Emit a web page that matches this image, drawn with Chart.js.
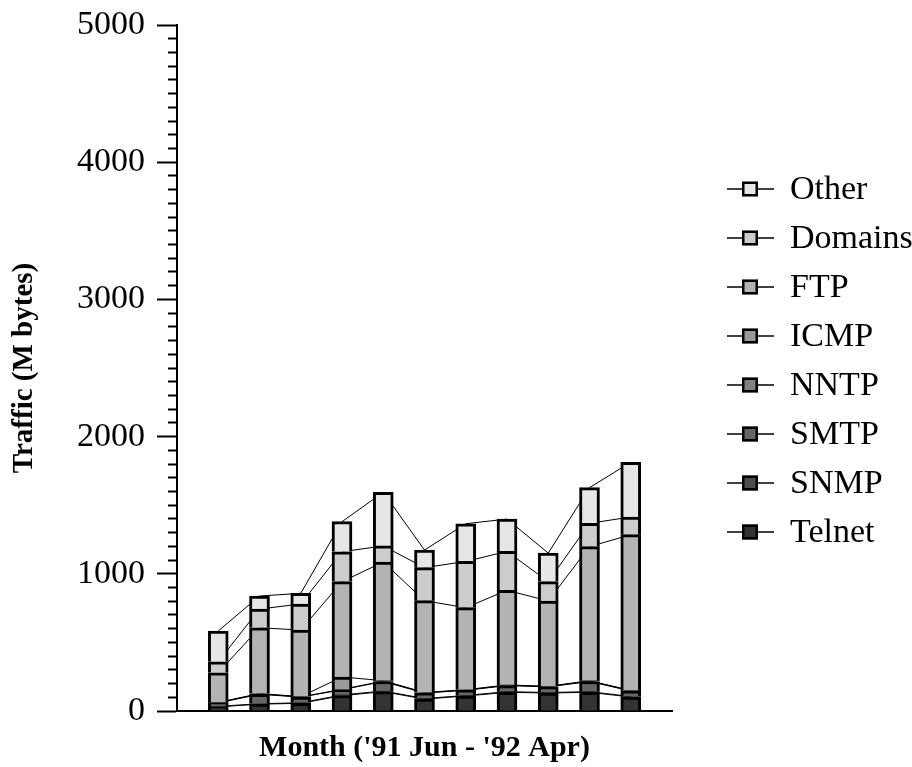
<!DOCTYPE html>
<html>
<head>
<meta charset="utf-8">
<script src="https://cdn.jsdelivr.net/npm/chart.js@4.4.1/dist/chart.umd.min.js"></script>
<style>
  html, body { margin: 0; padding: 0; background: #ffffff; }
  #wrap { width: 912px; height: 767px; }
</style>
</head>
<body>
<div id="wrap"><canvas id="traffic" width="912" height="767"></canvas></div>
<script>
// Monthly traffic by protocol, June 1991 - April 1992 (M bytes)
const months = ['Jun', 'Jul', 'Aug', 'Sep', 'Oct', 'Nov', 'Dec', 'Jan', 'Feb', 'Mar', 'Apr'];

const telnet  = [30, 50, 56, 112, 141, 87, 109, 136, 131, 136, 102];
const snmp    = [4, 3, 4, 5, 5, 4, 4, 5, 4, 5, 4];
const smtp    = [25, 69, 41, 38, 69, 40, 38, 44, 41, 74, 40];
const nntp    = [2, 3, 2, 3, 3, 2, 2, 3, 2, 3, 2];
const icmp    = [2, 2, 2, 90, 3, 2, 2, 2, 2, 3, 2];
const ftp     = [216, 480, 485, 695, 865, 669, 598, 690, 622, 977, 1135];
const domains = [80, 136, 190, 218, 117, 241, 337, 283, 141, 170, 129];
const other   = [224, 95, 78, 219, 391, 128, 275, 236, 208, 260, 399];

const seriesNames  = ['Telnet', 'SNMP', 'SMTP', 'NNTP', 'ICMP', 'FTP', 'Domains', 'Other'];
const seriesValues = [telnet, snmp, smtp, nntp, icmp, ftp, domains, other];
const seriesFills  = ['#333333', '#4d4d4d', '#666666', '#808080', '#999999', '#b3b3b3', '#cccccc', '#e6e6e6'];

const yTickLabels = [0, 1000, 2000, 3000, 4000, 5000];

const xTitle = "Month ('91 Jun - '92 Apr)";
const yTitle = 'Traffic (M bytes)';

// One empty slot on either side of the months so the bars sit inside the axis
const slotLabels = ['', ...months, ''];
const padSlots = vals => [null, ...vals, null];

const serif = '"Liberation Serif", "Times New Roman", serif';

const barSets = seriesValues.map((vals, i) => ({
  type: 'bar',
  label: seriesNames[i],
  data: padSlots(vals),
  backgroundColor: seriesFills[i],
  borderColor: '#000000',
  borderWidth: 3,
  barThickness: 20,
  stack: 'bars',
  order: 1
}));

// Thin lines joining the same stack level from month to month, drawn behind the bars
const levelSets = seriesValues.map((vals, i) => ({
  type: 'line',
  label: seriesNames[i] + ' level',
  data: padSlots(vals),
  borderColor: '#000000',
  borderWidth: 1,
  pointRadius: 0,
  fill: false,
  tension: 0,
  stack: 'levels',
  order: 2
}));

// Legend on the right: a short line through a framed swatch, topmost series first
const sideLegend = {
  id: 'sideLegend',
  afterDraw(chart) {
    const ctx = chart.ctx;
    const items = chart.data.datasets.filter(d => d.type === 'bar').slice().reverse();
    ctx.save();
    items.forEach((d, i) => {
      const cy = 189 + 49 * i;
      ctx.strokeStyle = '#000000';
      ctx.lineWidth = 1.5;
      ctx.beginPath();
      ctx.moveTo(727, cy);
      ctx.lineTo(774, cy);
      ctx.stroke();
      ctx.fillStyle = d.backgroundColor;
      ctx.fillRect(742, cy - 7.5, 16, 15);
      ctx.lineWidth = 2.5;
      ctx.strokeRect(743.25, cy - 6.25, 13.5, 12.5);
      ctx.fillStyle = '#000000';
      ctx.font = '34px ' + serif;
      ctx.textAlign = 'left';
      ctx.textBaseline = 'middle';
      ctx.fillText(d.label, 790, cy + 1);
    });
    ctx.restore();
  }
};

new Chart(document.getElementById('traffic'), {
  data: {
    labels: slotLabels,
    datasets: [...barSets, ...levelSets]
  },
  plugins: [sideLegend],
  options: {
    responsive: false,
    animation: false,
    devicePixelRatio: 1,
    layout: { padding: { top: 25, right: 240, bottom: 0, left: 0 } },
    plugins: {
      legend: { display: false },
      tooltip: { enabled: false }
    },
    scales: {
      x: {
        type: 'category',
        stacked: true,
        offset: false,
        grid: { display: false, drawTicks: false },
        border: { display: true, color: '#000000', width: 2 },
        ticks: { display: false },
        title: {
          display: true,
          text: xTitle,
          color: '#000000',
          font: { family: serif, size: 30, weight: 'bold' },
          padding: { top: 0, bottom: 1 }
        },
        afterFit: scale => { scale.height = 56; }
      },
      y: {
        stacked: true,
        min: 0,
        max: 5000,
        ticks: {
          stepSize: 100,
          autoSkip: false,
          padding: 12,
          color: '#000000',
          font: { family: serif, size: 34 },
          callback: v => yTickLabels.includes(v) ? String(v) : ''
        },
        grid: {
          drawOnChartArea: false,
          tickLength: 20,
          tickWidth: 2,
          tickColor: '#000000',
          tickBorderDash: c => (c.tick && yTickLabels.includes(c.tick.value)) ? [] : [0, 11, 9, 100]
        },
        border: { display: true, color: '#000000', width: 2 },
        title: {
          display: true,
          text: yTitle,
          color: '#000000',
          font: { family: serif, size: 29, weight: 'bold' },
          padding: { top: 7, bottom: 0 }
        },
        afterFit: scale => {
          scale.width = 177;
          scale.paddingTop = 0;
          scale.paddingBottom = 0;
        }
      }
    }
  }
});
</script>
</body>
</html>
